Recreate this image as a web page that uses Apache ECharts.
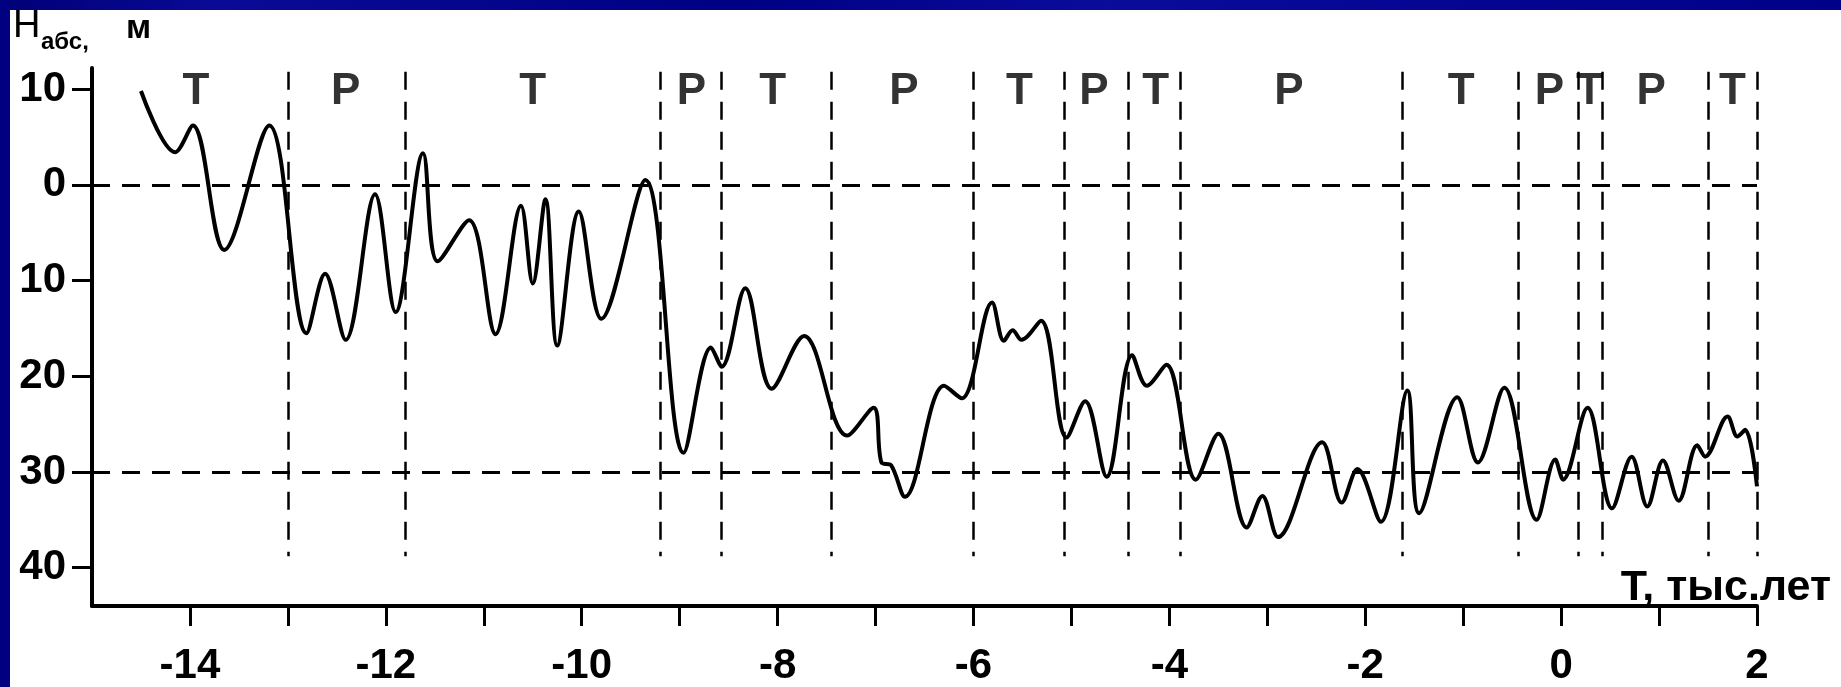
<!doctype html>
<html lang="ru">
<head>
<meta charset="UTF-8">
<title>Колебания уровня моря</title>
<script src="https://cdn.jsdelivr.net/npm/echarts@6/dist/echarts.min.js"></script>
<style>
    html, body { margin: 0; padding: 0; background: #fff; }
    #chart { width: 1841px; height: 687px; }
</style>
</head>
<body>
<div id="chart"></div>
<script>
    // время, тыс. лет (минус = до н.э.)
    var timeKyr = [-14.50, -14.15, -13.97, -13.65, -13.19, -12.81, -12.62, -12.41, -12.11, -11.90,
        -11.62, -11.47, -11.15, -10.88, -10.62, -10.50, -10.37, -10.25, -10.03, -9.80,
        -9.35, -8.96, -8.68, -8.57, -8.33, -8.06, -7.73, -7.29, -7.02, -6.94,
        -6.84, -6.70, -6.30, -6.12, -5.81, -5.69, -5.60, -5.51, -5.31, -5.05,
        -4.86, -4.64, -4.38, -4.23, -4.03, -3.73, -3.50, -3.21, -3.05, -2.89,
        -2.44, -2.24, -2.08, -1.84, -1.57, -1.45, -1.06, -0.85, -0.58, -0.25,
        -0.06, 0.02, 0.27, 0.52, 0.72, 0.88, 1.04, 1.20, 1.39, 1.47,
        1.70, 1.80, 1.88, 2.00];
    // абсолютная отметка, м
    var heightM = [9.8, 3.4, 6.2, -6.8, 6.2, -15.5, -9.3, -16.2, -1.0, -13.3,
        3.3, -8.0, -3.7, -15.6, -2.2, -10.3, -1.5, -16.8, -2.8, -14.0,
        0.5, -28.0, -17.0, -19.0, -10.8, -21.3, -15.8, -26.2, -23.3, -29.0,
        -29.3, -32.6, -21.0, -22.3, -12.3, -16.3, -15.2, -16.2, -14.2, -26.4,
        -22.6, -30.5, -17.8, -21.0, -18.8, -30.8, -26.0, -35.8, -32.5, -36.8,
        -26.9, -33.2, -29.7, -35.2, -21.5, -34.3, -22.2, -29.0, -21.2, -35.0,
        -28.7, -30.8, -23.3, -33.8, -28.4, -33.6, -28.8, -33.0, -27.2, -28.4,
        -24.2, -26.3, -25.6, -31.5];

    // границы фаз (вертикальные пунктиры)
    var phaseBounds = [-13, -11.8, -9.2, -8.58, -7.45, -6, -5.07, -4.42, -3.89, -1.62, -0.44, 0.17, 0.42, 1.5, 2];
    // Т - трансгрессия, Р - регрессия
    var phaseNames = ['Т', 'Р', 'Т', 'Р', 'Т', 'Р', 'Т', 'Р', 'Т', 'Р', 'Т', 'Р', 'Т', 'Р', 'Т'];
    var phaseX = [-13.94, -12.41, -10.5, -8.88, -8.05, -6.71, -5.53, -4.77, -4.14, -2.78, -1.02, -0.12, 0.29, 0.92, 1.75];
    var phaseLabelY = 9.7;

    var xTicks = [-14, -13, -12, -11, -10, -9, -8, -7, -6, -5, -4, -3, -2, -1, 0, 1, 2];
    var xLabels = [-14, -12, -10, -8, -6, -4, -2, 0, 2];
    var yTicks = [10, 0, -10, -20, -30, -40];
    var refLevels = [0, -30];

    var chart = echarts.init(document.getElementById('chart'));

    var curve = timeKyr.map(function (t, i) { return [t, heightM[i]]; });
    var phasePts = phaseX.map(function (t, i) { return { value: [t, phaseLabelY], name: phaseNames[i] }; });

    var dashStyle = { color: '#000', width: 3, type: [18, 12] };
    var vDash = { color: '#000', width: 2.5, type: [18, 12] };

    var markData = refLevels.map(function (v) {
        return { yAxis: v, lineStyle: dashStyle };
    });
    phaseBounds.forEach(function (b) {
        markData.push([{ coord: [b, 11.8], lineStyle: vDash }, { coord: [b, -38.8] }]);
    });

    var font = 'Liberation Sans, Arial, sans-serif';

    chart.setOption({
        backgroundColor: '#fff',
        animation: false,
        grid: { left: 92, right: 84, top: 68, bottom: 66, containLabel: false },
        xAxis: {
            type: 'value',
            min: -15,
            max: 2,
            axisLine: { onZero: false, lineStyle: { color: '#000', width: 4 } },
            axisTick: { customValues: xTicks, length: 20, lineStyle: { color: '#000', width: 3 } },
            axisLabel: {
                customValues: xLabels,
                color: '#000', fontFamily: font, fontSize: 42, fontWeight: 'bold', margin: 39,
                formatter: function (v) { return String(v).replace('−', '-'); }
            },
            splitLine: { show: false }
        },
        yAxis: {
            type: 'value',
            min: -44,
            max: 12.2,
            axisLine: { onZero: false, lineStyle: { color: '#000', width: 4 } },
            axisTick: { customValues: yTicks, length: 20, lineStyle: { color: '#000', width: 3 } },
            axisLabel: {
                customValues: yTicks,
                color: '#000', fontFamily: font, fontSize: 42, fontWeight: 'bold', margin: 26,
                formatter: function (v) { return Math.abs(v); }
            },
            splitLine: { show: false }
        },
        graphic: [
            { type: 'rect', left: 0, top: 0, z: 100, shape: { width: 1841, height: 10 },
              style: { fill: new echarts.graphic.LinearGradient(0, 0, 1, 0, [
                  { offset: 0, color: '#000078' }, { offset: 0.12, color: '#0a0a96' },
                  { offset: 0.4, color: '#000084' }, { offset: 0.6, color: '#0b0b9c' },
                  { offset: 1, color: '#000088' }]) } },
            { type: 'rect', left: 0, top: 0, z: 100, shape: { width: 10, height: 687 }, style: { fill: '#000080' } },
            { type: 'text', left: 13, top: 8, style: { text: 'H', font: '38px ' + font, fill: '#000' } },
            { type: 'text', left: 41, top: 30, style: { text: 'абс,', font: 'bold 24px ' + font, fill: '#000' } },
            { type: 'text', left: 126, top: 12, style: { text: 'м', font: 'bold 34px ' + font, fill: '#000' } },
            { type: 'text', right: 10, top: 567, style: { text: 'T, тыс.лет', font: 'bold 43px ' + font, fill: '#000' } }
        ],
        series: [
            {
                type: 'line',
                data: curve,
                smooth: 0.35,
                showSymbol: false,
                symbol: 'none',
                lineStyle: { color: '#000', width: 4 },
                z: 3,
                markLine: {
                    silent: true,
                    symbol: 'none',
                    label: { show: false },
                    data: markData
                }
            },
            {
                type: 'scatter',
                data: phasePts,
                symbolSize: 0,
                silent: true,
                label: {
                    show: true,
                    position: 'inside',
                    formatter: '{b}',
                    color: '#000',
                    fontFamily: font,
                    fontSize: 44,
                    fontWeight: 'bold'
                }
            }
        ]
    });
</script>
</body>
</html>
